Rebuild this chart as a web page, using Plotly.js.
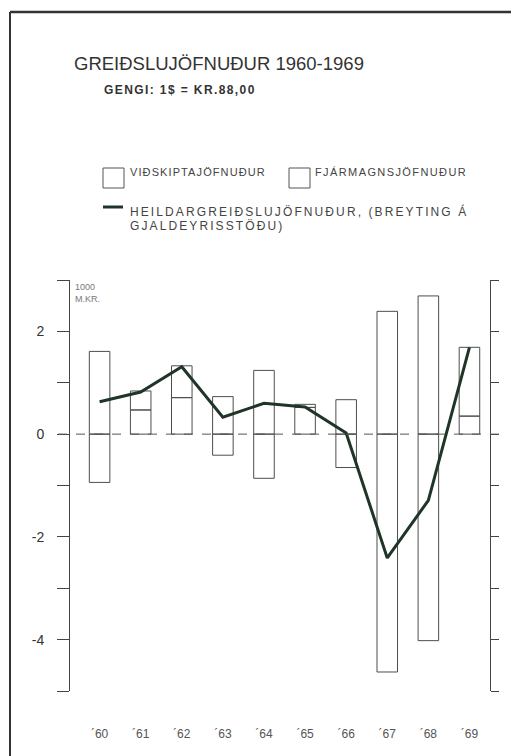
<!DOCTYPE html>
<html>
<head>
<meta charset="utf-8">
<script src="https://cdn.plot.ly/plotly-3.0.1.min.js"></script>
<style>
  html, body { margin: 0; padding: 0; background: #fff; }
  #chart { width: 511px; height: 756px; }
  g.annotation[data-index="0"] text { letter-spacing: 0px; }
  g.annotation[data-index="1"] text { letter-spacing: 1.4px; }
  g.annotation[data-index="2"] text { letter-spacing: 1.1px; }
  g.annotation[data-index="3"] text { letter-spacing: 1.4px; }
  g.annotation[data-index="4"] text { letter-spacing: 2.1px; }
  g.annotation[data-index="5"] text { letter-spacing: 2.1px; }
</style>
</head>
<body>
<div id="chart"></div>
<script>
// ---- data (1000 m.kr.) ----
const years = ["´60", "´61", "´62", "´63", "´64", "´65", "´66", "´67", "´68", "´69"];
const vidskiptajofnudur = [-0.94, 0.47, 0.71, -0.41, -0.86, 0.52, -0.65, -4.63, -4.02, 0.35];
const fjarmagnsjofnudur = [1.61, 0.37, 0.62, 0.73, 1.24, 0.06, 0.67, 2.39, 2.69, 1.34];
const heildargreidslujofnudur = [0.63, 0.82, 1.31, 0.33, 0.60, 0.53, 0.02, -2.41, -1.29, 1.69];
const yTickVals = [-5, -4, -3, -2, -1, 0, 1, 2, 3];
const yTickText = ["", "-4", "", "-2", "", "0", "", "2", ""];

const barLine = { color: "#4d4d4d", width: 1 };
const font = "Liberation Sans, Arial, sans-serif";

const traces = [
  { type: "bar", x: years, y: vidskiptajofnudur, name: "VIÐSKIPTAJÖFNUÐUR",
    marker: { color: "rgba(255,255,255,0)", line: barLine }, width: 0.5, hoverinfo: "y" },
  { type: "bar", x: years, y: fjarmagnsjofnudur, name: "FJÁRMAGNSJÖFNUÐUR",
    marker: { color: "rgba(255,255,255,0)", line: barLine }, width: 0.5, hoverinfo: "y" },
  { type: "scatter", mode: "lines", x: years, y: heildargreidslujofnudur, yaxis: "y2",
    name: "HEILDARGREIÐSLUJÖFNUÐUR", line: { color: "#1f3527", width: 3 } }
];

const px = v => (v - 70) / 420;     // pixel -> paper x
const py = v => (691 - v) / 411;    // pixel -> paper y

const layout = {
  width: 511, height: 756,
  margin: { l: 70, r: 21, t: 280, b: 65 },
  paper_bgcolor: "#ffffff", plot_bgcolor: "#ffffff",
  barmode: "relative",
  showlegend: false,
  font: { family: font, color: "#3a3a3a" },
  xaxis: {
    type: "category", range: [-0.72, 9.5], showline: false, showgrid: false,
    zeroline: false, ticks: "", ticklabelstandoff: 34,
    tickfont: { size: 12, color: "#555", family: font }, fixedrange: true
  },
  yaxis: {
    range: [-5, 3], showgrid: false, zeroline: false, showline: true,
    linecolor: "#444", linewidth: 1, ticks: "outside", ticklen: 12, tickcolor: "#444",
    tickvals: yTickVals, ticktext: yTickText, ticklabelstandoff: 10,
    tickfont: { size: 14, color: "#333", family: font }, fixedrange: true
  },
  yaxis2: {
    range: [-5, 3], overlaying: "y", side: "right", showgrid: false, zeroline: false,
    showline: true, linecolor: "#444", linewidth: 1, ticks: "outside", ticklen: 8,
    tickcolor: "#444", tickvals: yTickVals, showticklabels: false, fixedrange: true
  },
  shapes: [
    // zero dashed line
    { type: "line", xref: "paper", yref: "y", x0: px(58), x1: px(500), y0: 0, y1: 0,
      line: { color: "#555", width: 1, dash: "dash" } },
    // page border
    { type: "line", xref: "paper", yref: "paper", x0: px(10), x1: px(511), y0: py(12), y1: py(12),
      line: { color: "#333", width: 2.5 } },
    { type: "line", xref: "paper", yref: "paper", x0: px(10), x1: px(10), y0: py(12), y1: py(756),
      line: { color: "#333", width: 2 } },
    // legend symbols
    { type: "rect", xref: "paper", yref: "paper", x0: px(103), x1: px(124), y0: py(168), y1: py(188),
      line: { color: "#555", width: 1 }, fillcolor: "rgba(0,0,0,0)" },
    { type: "rect", xref: "paper", yref: "paper", x0: px(289), x1: px(310), y0: py(168), y1: py(188),
      line: { color: "#555", width: 1 }, fillcolor: "rgba(0,0,0,0)" },
    { type: "line", xref: "paper", yref: "paper", x0: px(103), x1: px(123), y0: py(207), y1: py(207),
      line: { color: "#1f3527", width: 3 } }
  ],
  annotations: [
    { text: "GREIÐSLUJÖFNUÐUR 1960-1969", xref: "paper", yref: "paper", x: px(72), y: py(63),
      xanchor: "left", yanchor: "middle", align: "left", showarrow: false,
      font: { size: 18.5, color: "#333", family: font } },
    { text: "GENGI: 1$ = KR.88,00", xref: "paper", yref: "paper", x: px(102), y: py(90),
      xanchor: "left", yanchor: "middle", align: "left", showarrow: false,
      font: { size: 12, color: "#333", family: font, weight: 700 } },
    { text: "VIÐSKIPTAJÖFNUÐUR", xref: "paper", yref: "paper", x: px(128), y: py(172),
      xanchor: "left", yanchor: "middle", align: "left", showarrow: false,
      font: { size: 11, color: "#444", family: font } },
    { text: "FJÁRMAGNSJÖFNUÐUR", xref: "paper", yref: "paper", x: px(313), y: py(172),
      xanchor: "left", yanchor: "middle", align: "left", showarrow: false,
      font: { size: 11, color: "#444", family: font } },
    { text: "HEILDARGREIÐSLUJÖFNUÐUR, (BREYTING Á", xref: "paper", yref: "paper", x: px(128), y: py(211),
      xanchor: "left", yanchor: "middle", align: "left", showarrow: false,
      font: { size: 12, color: "#444", family: font } },
    { text: "GJALDEYRISSTÖÐU)", xref: "paper", yref: "paper", x: px(128), y: py(226),
      xanchor: "left", yanchor: "middle", align: "left", showarrow: false,
      font: { size: 12, color: "#444", family: font } },
    { text: "1000<br>M.KR.", xref: "paper", yref: "paper", x: px(73), y: py(280),
      xanchor: "left", yanchor: "top", align: "left", showarrow: false,
      font: { size: 9, color: "#777", family: font } }
  ]
};

Plotly.newPlot("chart", traces, layout, { displayModeBar: false, staticPlot: true });
</script>
</body>
</html>
